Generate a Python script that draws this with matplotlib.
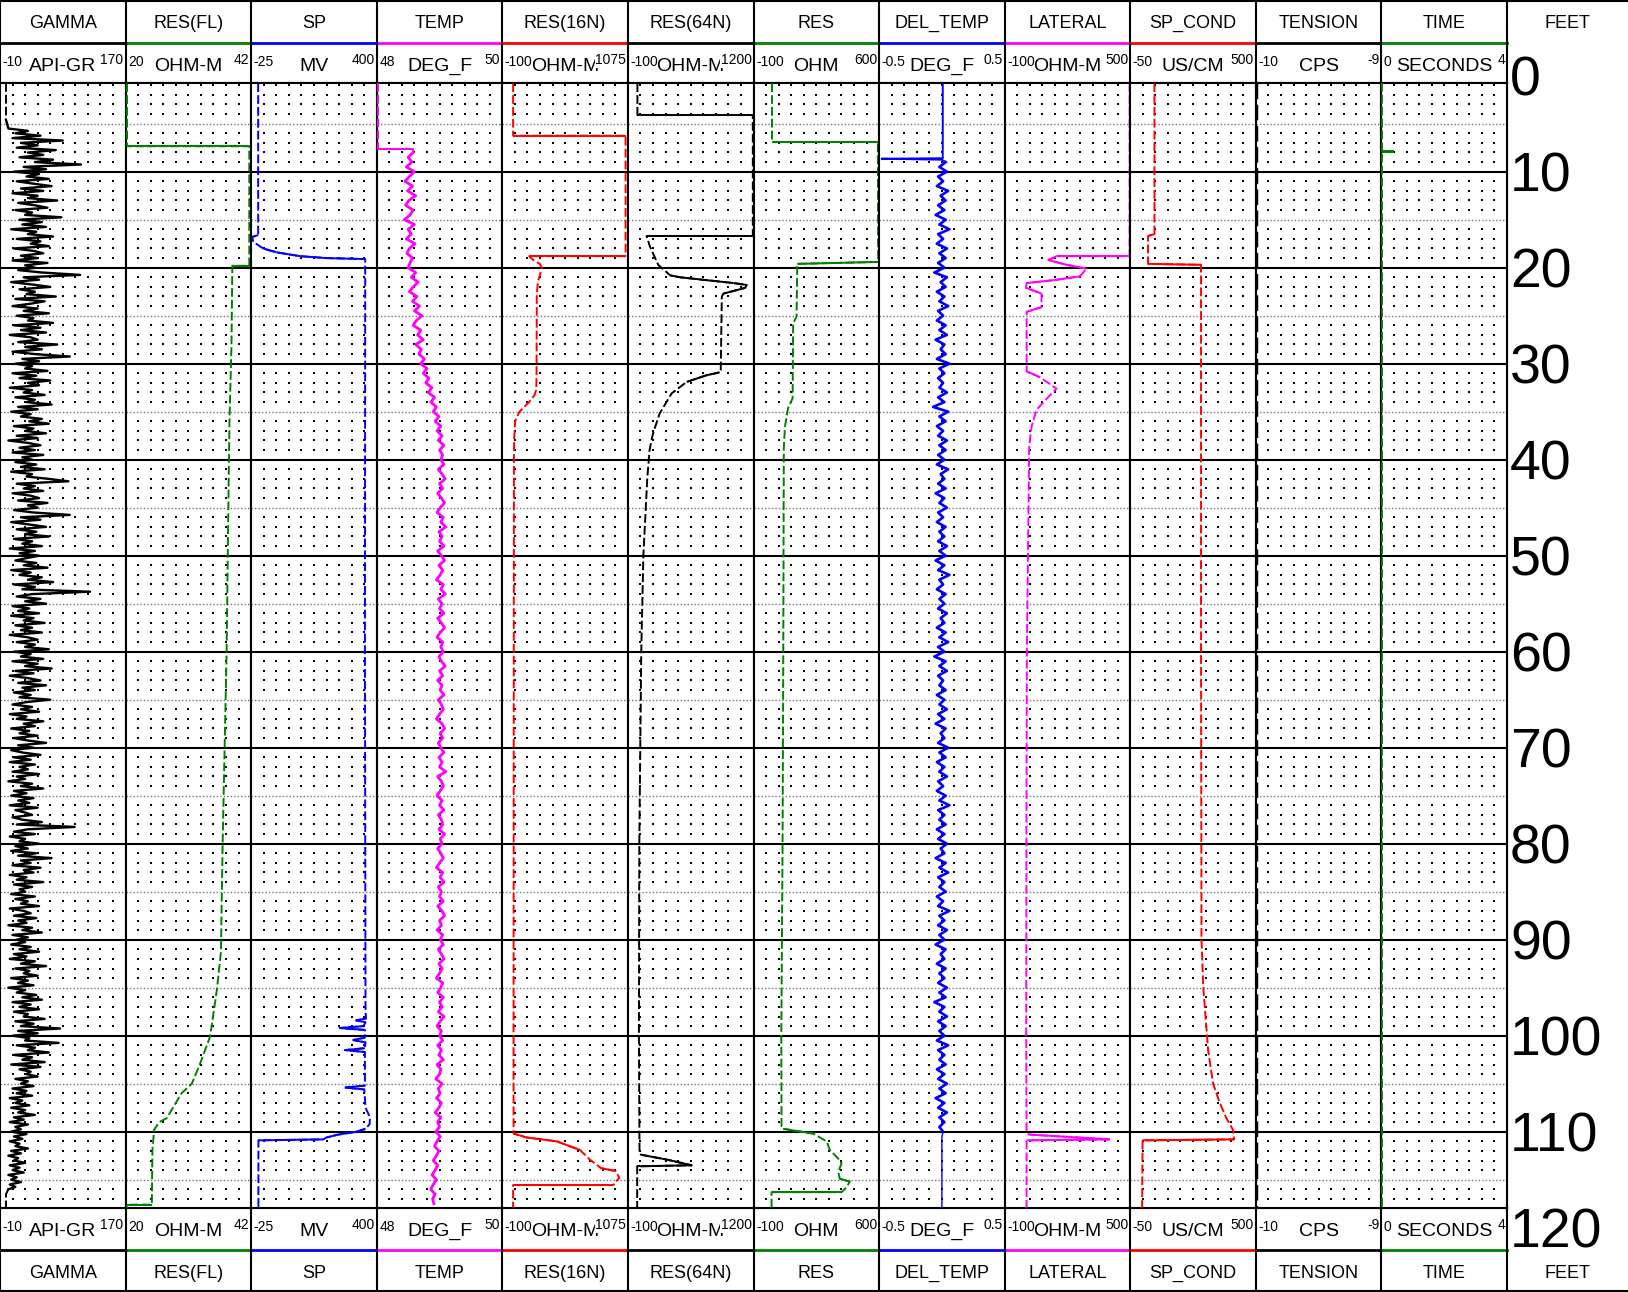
import numpy as np
import matplotlib
matplotlib.use('Agg')
import matplotlib.pyplot as plt

plt.rcParams['font.family'] = ['Liberation Sans', 'DejaVu Sans']

# ---------------- header data ----------------
names = ['GAMMA', 'RES(FL)', 'SP', 'TEMP', 'RES(16N)', 'RES(64N)', 'RES',
         'DEL_TEMP', 'LATERAL', 'SP_COND', 'TENSION', 'TIME']
units = ['API-GR', 'OHM-M', 'MV', 'DEG_F', 'OHM-M', 'OHM-M', 'OHM',
         'DEG_F', 'OHM-M', 'US/CM', 'CPS', 'SECONDS']
scale_lo = [-10, 20, -25, 48, -100, -100, -100, -0.5, -100, -50, -10, 0]
scale_hi = [170, 42, 400, 50, 1075, 1200, 600, 0.5, 500, 500, -9, 4]
lo_text = ['-10', '20', '-25', '48', '-100', '-100', '-100', '-0.5', '-100', '-50', '-10', '0']
hi_text = ['170', '42', '400', '50', '1075', '1200', '600', '0.5', '500', '500', '-9', '4']
track_colors = ['black', 'green', 'blue', 'magenta', 'red', 'black', 'green',
                'blue', 'magenta', 'red', 'black', 'green']
depth_labels = [0, 10, 20, 30, 40, 50, 60, 70, 80, 90, 100, 110, 120]

# ---------------- curve data (depth in feet, value in track units) ----------------
gamma_top_d = [0.79, 4.6]
gamma_top_v = [-1.4, -1.4]
gamma_d = np.arange(5.5, 116.01, 0.25)
gamma_v = [2, 30, 12, 48, 8, 80, 20, 44, 14, 70, 30, 52, 18, 66, 40, 106, 24, 56, 10, 46,
           28, 60, 14, 38, 64, 20, 52, 8, 44, 30, 72, 16, 40, 58, 12, 36, 26, 78, 18, 50,
           22, 56, 6, 42, 30, 66, 14, 48, 34, 60, 10, 38, 52, 20, 44, 8, 58, 26, 40, 16,
           50, 105, 24, 46, 6, 36, 62, 18, 40, 28, 70, 12, 54, 34, 8, 44, 24, 60, 14, 38,
           30, 66, 10, 48, 20, 56, 4, 34, 44, 16, 72, 26, 50, 8, 40, 90, 22, 46, 12, 36,
           26, 58, 8, 42, 18, 62, 30, 46, 4, 36, 24, 54, 12, 40, 28, 64, 16, 44, 6, 34,
           20, 50, 32, 60, 10, 38, 26, 56, 14, 44, 2, 30, 48, 18, 40, 8, 52, 22, 36, 12,
           42, 20, 54, 6, 36, 28, 60, 88, 14, 40, 24, 52, 8, 34, 46, 16, 58, 30, 44, 10,
           38, 90, 20, 48, 6, 32, 56, 14, 42, 26, 60, 10, 36, 22, 50, 4, 40, 18, 46, 28,
           12, 42, 24, 58, 6, 34, 18, 50, 30, 66, 10, 40, 22, 119, 36, 14, 48, 26, 56, 8,
           32, 16, 46, 6, 38, 24, 54, 12, 36, 20, 50, 4, 30, 44, 14, 40, 26, 60, 10, 34,
           20, 52, 8, 44, 26, 64, 12, 38, 4, 30, 48, 16, 56, 22, 40, 10, 34, 18, 62, 28,
           8, 36, 20, 46, 4, 28, 14, 52, 24, 40, 6, 32, 18, 44, 10, 30, 56, 16, 38, 6,
           22, 48, 10, 34, 4, 40, 18, 30, 8, 46, 14, 26, 2, 36, 20, 52, 10, 28, 6, 38,
           16, 32, 4, 44, 12, 26, 36, 8, 22, 50, 14, 97, 30, 10, 40, 4, 26, 18, 46, 12,
           30, 6, 42, 16, 64, 20, 34, 8, 48, 24, 38, 4, 28, 14, 52, 10, 36, 18, 26, 6,
           40, 12, 30, 20, 46, 4, 24, 34, 10, 42, 16, 28, 2, 36, 22, 50, 8, 30, 14, 26,
           6, 34, 18, 46, 10, 28, 4, 40, 20, 56, 12, 32, 24, 44, 6, 30, 16, 38, 2, 26,
           14, 42, 22, 50, 8, 34, 18, 46, 10, 30, 24, 54, 12, 38, 20, 76, 16, 44, 8, 32,
           26, 74, 14, 40, 30, 60, 10, 36, 22, 54, 6, 48, 18, 34, 28, 44, 12, 30, 20, 38,
           8, 28, 14, 36, 4, 22, 12, 32, 6, 26, 16, 40, 10, 24, 4, 30, 12, 20, 6, 28,
           10, 22, 4, 18, 12, 30, 6, 20, 2, 16, 10, 26, 4, 18, 8, 24, 2, 14, 6, 20,
           4, 12, 2]
gamma_bot_d = [116.0, 116.5, 117.92]
gamma_bot_v = [2, -1.4, -1.4]

res_fl_d = [0.79, 7.35, 7.35, 19.8, 19.8, 28, 36, 45, 60, 80, 91.3, 95.2, 100.1,
            103.0, 105.0, 106.0, 108.6, 109.0, 109.8, 111.9, 117.6, 117.6, 117.92]
res_fl_v = [20.25, 20.25, 41.67, 41.67, 38.7, 38.55, 38.2, 38.0, 37.7, 37.0, 36.7,
            36.0, 34.8, 33.0, 31.6, 29.8, 27.2, 25.9, 25.0, 24.7, 24.6, 20.2, 20.2]

sp_d = [0.79, 16.6, 16.8, 17.3, 18.0, 18.4, 18.8, 19.0, 19.1, 60, 97.5, 98.2, 98.4,
        98.6, 99.0, 99.2, 99.4, 100.2, 100.45, 100.7, 101.3, 101.5, 101.7, 105.2,
        105.4, 105.6, 107.5, 108.5, 109.2, 109.7, 110.0, 110.3, 110.6, 110.8, 110.9, 117.92]
sp_v = [-1.3, -1.3, -21.6, -18, 15.6, 61, 141, 231, 361, 360, 362, 364, 330, 362,
        355, 275, 360, 360, 320, 362, 360, 292, 360, 360, 292, 358, 362, 377, 376,
        362, 332, 270, 230, 219, -0.5, -0.5]

temp_top_d = [0.79, 7.6, 7.6, 8.0]
temp_top_v = [48.02, 48.02, 48.58, 48.58]
temp_d = np.arange(8.0, 117.51, 0.5)
temp_v = [48.58, 48.50, 48.56, 48.47, 48.60, 48.52, 48.45, 48.57, 48.49, 48.62, 48.51, 48.46,
          48.58, 48.53, 48.44, 48.60, 48.50, 48.55, 48.47, 48.61, 48.52, 48.48, 48.57, 48.53,
          48.50, 48.62, 48.55, 48.66, 48.58, 48.52, 48.64, 48.57, 48.68, 48.60,
          48.72, 48.63, 48.58, 48.70, 48.65, 48.74, 48.62, 48.71, 48.67, 48.76,
          48.70, 48.80, 48.74, 48.83, 48.78, 48.88, 48.82, 48.92, 48.86, 48.95,
          48.90, 48.99, 48.93, 49.02, 48.96, 49.04, 48.98, 49.07, 49.00, 49.05,
          49.02, 49.07, 48.98, 49.04, 49.09, 49.00, 49.05, 48.97, 49.03, 49.08,
          49.01, 48.96, 49.06, 49.02, 49.10, 48.99, 49.04, 49.00, 49.07, 48.97,
          49.03, 49.08, 48.99, 49.05, 49.01, 48.95, 49.06, 49.02, 49.09, 48.98,
          49.04, 49.00, 49.07, 48.97, 49.03, 49.08, 49.01, 48.96, 49.05, 49.02,
          49.06, 48.99, 49.03, 49.09, 49.00, 49.05, 48.97, 49.04, 49.01, 49.07,
          48.98, 49.03, 49.06, 49.00, 48.95, 49.04, 49.08, 49.01, 49.05, 48.98,
          49.02, 49.07, 48.99, 49.04, 49.00, 49.10, 48.97, 49.03, 49.06, 49.01,
          48.96, 49.04, 49.00, 49.07, 48.98, 49.03, 49.05, 48.99, 49.08, 49.01,
          49.04, 48.97, 49.02, 49.06, 49.00, 48.95, 49.05, 49.01, 49.07, 48.98,
          49.03, 49.00, 49.06, 48.97, 49.04, 49.08, 49.00, 49.03, 48.96, 49.05,
          49.01, 49.06, 48.98, 49.03, 49.07, 48.99, 49.04, 49.00, 48.95, 49.05,
          49.02, 48.97, 49.06, 49.00, 49.04, 48.98, 49.07, 49.01, 48.96, 49.03,
          49.00, 49.05, 48.97, 49.03, 48.99, 49.06, 48.96, 49.02, 49.00, 48.94,
          49.04, 48.98, 49.01, 48.95, 49.03, 48.99, 48.93, 49.02, 48.97, 49.00,
          48.94, 49.01, 48.96, 48.92, 48.99, 48.95, 48.90, 48.97, 48.93, 48.88,
          48.95, 48.90, 48.86, 48.93, 48.89, 48.91]

r16_d = [0.79, 6.25, 6.25, 18.8, 18.8, 19.2, 19.6, 20.0, 20.6, 21.5, 23.0, 25.0, 28.0,
         31.0, 32.7, 33.3, 34.0, 35.0, 36.0, 38.0, 40.0, 60, 80, 100, 110.2, 110.6,
         111.0, 111.9, 112.9, 113.8, 114.1, 114.8, 115.4, 115.55, 115.55, 117.92]
r16_v = [1, 1, 1053, 1053, 152, 190, 250, 268, 255, 232, 222, 222, 221, 220, 218, 200,
         150, 60, 20, 10, 8.6, 7, 6, 5, 5, 127, 408, 626, 719, 823, 962, 994, 947, 940, 1, 1]

r64_d = [0.79, 4.1, 4.1, 16.7, 16.7, 17.8, 19.7, 20.8, 21.0, 21.6, 21.8, 22.1, 22.7,
         23.0, 30.7, 30.9, 31.2, 31.9, 33.1, 35.2, 37.3, 39.0, 42, 50, 60, 80, 100,
         112.3, 112.4, 112.9, 113.5, 113.6, 113.6, 117.92]
r64_v = [-1.7, -1.7, 1193, 1193, 93, 128, 214, 338, 441, 993, 1131, 1114, 889, 872, 861,
         850, 715, 508, 352, 228, 159, 124, 100, 60, 38, 18, 14, 20, 36, 300, 561, 24, -4, -4]

res_d = [0.79, 6.9, 6.9, 19.4, 19.6, 25.1, 25.8, 33.6, 34.6, 36.6, 38.8, 45, 60, 80,
         100, 108, 109.6, 109.7, 110.2, 111.0, 111.9, 112.8, 113.3, 114.2, 114.9, 115.2,
         115.8, 116.3, 116.3, 117.92]
res_v = [3, 3, 593, 595, 144, 140, 121, 118, 93, 75, 69, 68, 66, 62, 55, 56, 56, 66,
         233, 307, 326, 372, 391, 372, 381, 437, 418, 391, 0.6, 0.6]

dtemp_top_d = [0.79, 8.6, 8.65, 8.75, 9.0]
dtemp_top_v = [0.007, 0.007, -0.48, 0.0, 0.03]
dtemp_d = np.arange(9.0, 110.01, 0.5)
dtemp_v = [0.03, -0.02, 0.04, -0.03, 0.01, -0.04, 0.05, -0.01, 0.03, -0.03,
           0.02, -0.05, 0.03, -0.02, 0.06, -0.03, 0.01, -0.04, 0.04, -0.02,
           0.03, -0.03, 0.02, -0.06, 0.04, -0.01, 0.03, -0.04, 0.02, -0.02,
           0.05, -0.03, 0.01, -0.04, 0.03, -0.02, 0.04, -0.05, 0.02, -0.01,
           0.03, -0.04, 0.06, -0.02, 0.02, -0.03, 0.01, -0.02, 0.04, -0.03,
           0.02, -0.07, 0.05, -0.02, 0.03, -0.04, 0.01, -0.03, 0.04, -0.02,
           0.03, -0.03, 0.02, -0.04, 0.05, -0.01, 0.02, -0.03, 0.03, -0.05,
           0.02, -0.02, 0.04, -0.03, 0.01, -0.04, 0.03, -0.02, 0.02, -0.03,
           0.04, -0.02, 0.03, -0.05, 0.02, -0.03, 0.06, -0.02, 0.01, -0.04,
           0.03, -0.02, 0.02, -0.03, 0.04, -0.01, 0.02, -0.04, 0.03, -0.02,
           0.05, -0.03, 0.02, -0.06, 0.03, -0.02, 0.04, -0.03, 0.01, -0.02,
           0.03, -0.04, 0.02, -0.02, 0.04, -0.03, 0.02, -0.05, 0.03, -0.01,
           0.02, -0.03, 0.05, -0.02, 0.03, -0.04, 0.02, -0.02, 0.04, -0.03,
           0.01, -0.04, 0.03, -0.02, 0.06, -0.03, 0.02, -0.02, 0.03, -0.04,
           0.02, -0.03, 0.04, -0.01, 0.02, -0.05, 0.03, -0.02, 0.05, -0.03,
           0.02, -0.02, 0.03, -0.04, 0.01, -0.03, 0.06, -0.02, 0.02, -0.03,
           0.04, -0.02, 0.02, -0.05, 0.03, -0.01, 0.02, -0.04, 0.03, -0.02,
           0.02, -0.03, 0.04, -0.02, 0.03, -0.06, 0.02, -0.02, 0.04, -0.03,
           0.03, -0.02, 0.02, -0.04, 0.05, -0.03, 0.02, -0.02, 0.03, -0.04,
           0.02, -0.03, 0.04, -0.02, 0.03, -0.05, 0.02, -0.03, 0.04, -0.02,
           0.02, -0.02, 0.01]
dtemp_bot_d = [110.0, 110.5, 117.92]
dtemp_bot_v = [0.01, 0.0, 0.0]

lat_d = [0.79, 18.8, 18.8, 19.2, 19.7, 20.1, 20.9, 21.3, 21.6, 22.1, 22.7, 24.1, 24.6,
         30.8, 31.4, 32.6, 33.3, 34.8, 36.6, 38.6, 45, 60, 80, 100, 110.1, 110.3, 110.8,
         110.9, 117.92]
lat_v = [497, 497, 148, 108, 196, 291, 260, 133, 5, 2, 76, 76, 5, 5, 68, 148, 116, 52,
         28, 17, 14, 6, 4, 3, 4.6, 17, 402, 4.6, 4.6]

spc_d = [0.79, 16.5, 16.7, 19.6, 19.7, 60, 90, 95, 101.5, 105.0, 107.0, 108.6, 109.8,
         110.8, 110.9, 117.92]
spc_v = [56, 56, 28, 28, 260, 260, 262, 270, 291, 313, 342, 371, 400, 405, 4, 2]

tension_d = [0.79, 117.92]
tension_v = [-9.995, -9.995]

time_d = [0.79, 7.8, 7.8, 7.9, 7.9, 117.92]
time_v = [0.03, 0.03, 0.4, 0.4, 0.03, 0.03]

# ---------------- layout (pixels) ----------------
W, H = 1628, 1292
TW = 1507 / 12
Y1, Y2, Y3, Y4 = 42.7, 83.3, 1207.7, 1250.0
D0_PX, PX_FT = 75.7, 9.6
d_top = (Y2 - D0_PX) / PX_FT
d_bot = (Y3 - D0_PX) / PX_FT

fig = plt.figure(figsize=(W / 100, H / 100), dpi=100)
bg = fig.add_axes([0, 0, 1, 1])
bg.set_xlim(0, W)
bg.set_ylim(H, 0)
bg.axis('off')


def txt(x, yc, s, fs, ha='center', **kw):
    # centre the cap height on yc
    bg.text(x, yc + 0.716 * fs * 100 / 72 / 2, s, fontsize=fs, ha=ha, va='baseline', **kw)


def log_curve(ax, d, v, i, color, lw=1.4):
    d = np.asarray(d, float)
    v = np.asarray(v, float)
    span = scale_hi[i] - scale_lo[i]
    ax.plot(v, d, color=color, lw=lw, ls=(0, (4.5, 1.6)), zorder=3)
    dx = np.abs(np.diff(v)) / span * TW
    dy = np.abs(np.diff(d)) * PX_FT
    for k in np.where(dx > 2 * dy)[0]:
        ax.plot(v[k:k + 2], d[k:k + 2], color=color, lw=lw, solid_capstyle='butt', zorder=3)


axes = []
dot_d = [d for d in range(1, 118) if d % 5]
for i in range(12):
    x0 = i * TW
    ax = fig.add_axes([x0 / W, 1 - Y3 / H, TW / W, (Y3 - Y2) / H])
    lo, hi = scale_lo[i], scale_hi[i]
    ax.set_xlim(lo, hi)
    ax.set_ylim(d_bot, d_top)
    ax.set_xticks([])
    ax.set_yticks([])
    for s in ax.spines.values():
        s.set_linewidth(1.5)
    for d in range(10, 120, 10):
        ax.axhline(d, color='black', lw=1.5, zorder=1)
    for d in range(5, 120, 10):
        ax.axhline(d, color='0.45', lw=1.0, ls=(0, (1, 1.5)), zorder=1)
    xs = lo + (hi - lo) * np.arange(1, 10) / 10
    X, Y = np.meshgrid(xs, dot_d)
    ax.plot(X.ravel(), Y.ravel(), 's', ms=1.7, mew=0, color='black', zorder=1)
    axes.append(ax)

    # header / footer boxes
    txt(x0 + TW / 2, 21.7, names[i], 13)
    txt(x0 + TW / 2, 64, units[i], 14)
    txt(x0 + 2.5, 61.5, lo_text[i], 10, ha='left')
    txt(x0 + TW - 2, 59.5, hi_text[i], 10, ha='right',
        bbox=dict(facecolor='white', edgecolor='none', pad=0.3))
    txt(x0 + TW / 2, 1271.5, names[i], 13)
    txt(x0 + TW / 2, 1229, units[i], 14)
    txt(x0 + 2.5, 1226.5, lo_text[i], 10, ha='left')
    txt(x0 + TW - 2, 1224.5, hi_text[i], 10, ha='right',
        bbox=dict(facecolor='white', edgecolor='none', pad=0.3))
    bg.plot([x0, x0 + TW], [Y1, Y1], color=track_colors[i], lw=2)
    bg.plot([x0, x0 + TW], [Y4, Y4], color=track_colors[i], lw=2)

# grid frame of the header
for k in range(13):
    bg.plot([k * TW, k * TW], [0, H], color='black', lw=1.5)
for y in (Y2, Y3):
    bg.plot([0, 12 * TW], [y, y], color='black', lw=1.5)
bg.plot([0, W], [0.8, 0.8], color='black', lw=1.5)
bg.plot([0, W], [H - 0.8, H - 0.8], color='black', lw=1.5)

# depth column
txt(12 * TW + (W - 12 * TW) / 2, 21.7, 'FEET', 13)
txt(12 * TW + (W - 12 * TW) / 2, 1271.5, 'FEET', 13)
for d in depth_labels:
    txt(1510, D0_PX + d * PX_FT, str(d), 40, ha='left')

# ---------------- curves ----------------
ax = axes[0]
log_curve(ax, gamma_top_d, gamma_top_v, 0, 'black')
ax.plot(np.r_[gamma_top_v[-1:], gamma_v], np.r_[gamma_top_d[-1:], gamma_d],
        color='black', lw=1.7, zorder=3)
log_curve(ax, gamma_bot_d, gamma_bot_v, 0, 'black')

log_curve(axes[1], res_fl_d, res_fl_v, 1, 'green')
log_curve(axes[2], sp_d, sp_v, 2, 'blue')

ax = axes[3]
log_curve(ax, temp_top_d, temp_top_v, 3, 'magenta')
ax.plot(temp_v, temp_d, color='magenta', lw=2.0, zorder=3)

log_curve(axes[4], r16_d, r16_v, 4, 'red')
log_curve(axes[5], r64_d, r64_v, 5, 'black')
log_curve(axes[6], res_d, res_v, 6, 'green')

ax = axes[7]
ax.plot(dtemp_top_v, dtemp_top_d, color='blue', lw=1.4, zorder=3)
ax.plot(dtemp_v, dtemp_d, color='blue', lw=1.9, zorder=3)
ax.plot(dtemp_bot_v, dtemp_bot_d, color='blue', lw=1.0, zorder=3)

log_curve(axes[8], lat_d, lat_v, 8, 'magenta')
log_curve(axes[9], spc_d, spc_v, 9, 'red')
log_curve(axes[10], tension_d, tension_v, 10, 'black', lw=2.5)
log_curve(axes[11], time_d, time_v, 11, 'green')

fig.savefig('out.png', dpi=100)
